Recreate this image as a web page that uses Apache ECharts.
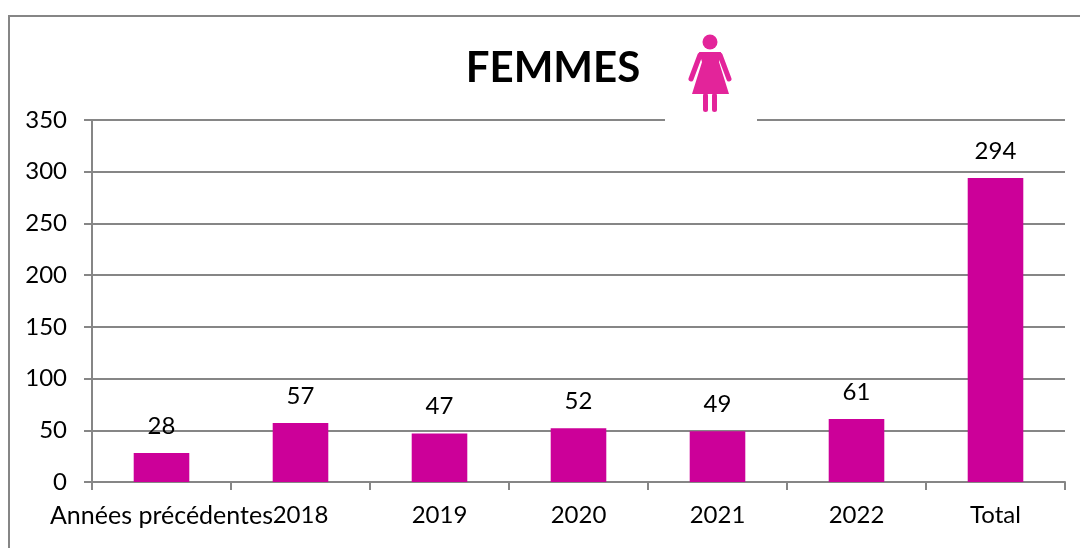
<!DOCTYPE html>
<html>
<head>
<meta charset="utf-8">
<style>html,body{margin:0;padding:0;background:#fff;}#chart{width:1080px;height:548px;}</style>
<script src="https://cdn.jsdelivr.net/npm/echarts@6.0.0/dist/echarts.min.js"></script>
</head>
<body>
<div id="chart"></div>
<script>
const categories = ["Années précédentes", "2018", "2019", "2020", "2021", "2022", "Total"];
const femmes = [28, 57, 47, 52, 49, 61, 294];
const yTicks = { min: 0, max: 350, interval: 50 };
const titleText = "FEMMES";

const fontFamily = "Lato, 'Open Sans', sans-serif";
const gray = "#868686";
const pink = "#E3249A";

const chart = echarts.init(document.getElementById("chart"), null, { renderer: "canvas" });
chart.setOption({
    animation: false,
    backgroundColor: "#fff",
    textStyle: { fontFamily },
    grid: { left: 92, right: 15, top: 120, bottom: 66 },
    xAxis: {
        type: "category",
        // le premier libelle est un peu plus large dans l'original
        data: categories.map((c, i) => i === 0 ? { value: c, textStyle: { fontSize: 25 } } : c),
        axisLine: { lineStyle: { color: gray, width: 2 } },
        axisTick: { show: true, alignWithLabel: false, length: 8, lineStyle: { color: gray, width: 2 } },
        axisLabel: { color: "#000", fontSize: 24, margin: 21, fontFamily, interval: 0, hideOverlap: false }
    },
    yAxis: {
        type: "value",
        min: yTicks.min, max: yTicks.max, interval: yTicks.interval,
        axisLine: { show: true, lineStyle: { color: gray, width: 2 } },
        axisTick: { show: true, length: 8, lineStyle: { color: gray, width: 2 } },
        splitLine: { lineStyle: { color: gray, width: 2 } },
        axisLabel: { color: "#000", fontSize: 24, margin: 25, fontFamily }
    },
    series: [{
        type: "bar",
        data: femmes,
        barWidth: "40%",
        itemStyle: { color: "#CC0099" },
        label: { show: true, position: "top", distance: 15, color: "#000", fontSize: 24, fontFamily }
    }],
    graphic: [
        // cadre gauche + haut
        { type: "polyline", silent: true, z: 0, shape: { points: [[9, 548], [9, 16], [1080, 16]] }, style: { stroke: gray, lineWidth: 2, fill: null } },
        // masque blanc derriere le pictogramme
        { type: "rect", z: 5, shape: { x: 665, y: 27, width: 92, height: 94 }, style: { fill: "#fff" } },
        { type: "text", z: 6, style: { x: 553, y: 68, text: titleText, font: "bold 42px " + fontFamily, fill: "#000", textAlign: "center", textVerticalAlign: "middle" } },
        // pictogramme femme
        { type: "circle", z: 6, shape: { cx: 710, cy: 42, r: 7.5 }, style: { fill: pink } },
        { type: "polygon", z: 6, shape: { points: [[699, 52], [721, 52], [719, 62], [729, 94], [692, 94], [702, 62]] }, style: { fill: pink } },
        { type: "polyline", z: 6, shape: { points: [[700, 55], [691, 79]] }, style: { stroke: pink, lineWidth: 5, lineCap: "round", fill: null } },
        { type: "polyline", z: 6, shape: { points: [[720, 55], [729, 79]] }, style: { stroke: pink, lineWidth: 5, lineCap: "round", fill: null } },
        { type: "rect", z: 6, shape: { x: 703, y: 93, width: 5, height: 19, r: 2.5 }, style: { fill: pink } },
        { type: "rect", z: 6, shape: { x: 712, y: 93, width: 5, height: 19, r: 2.5 }, style: { fill: pink } }
    ]
});
</script>
</body>
</html>
